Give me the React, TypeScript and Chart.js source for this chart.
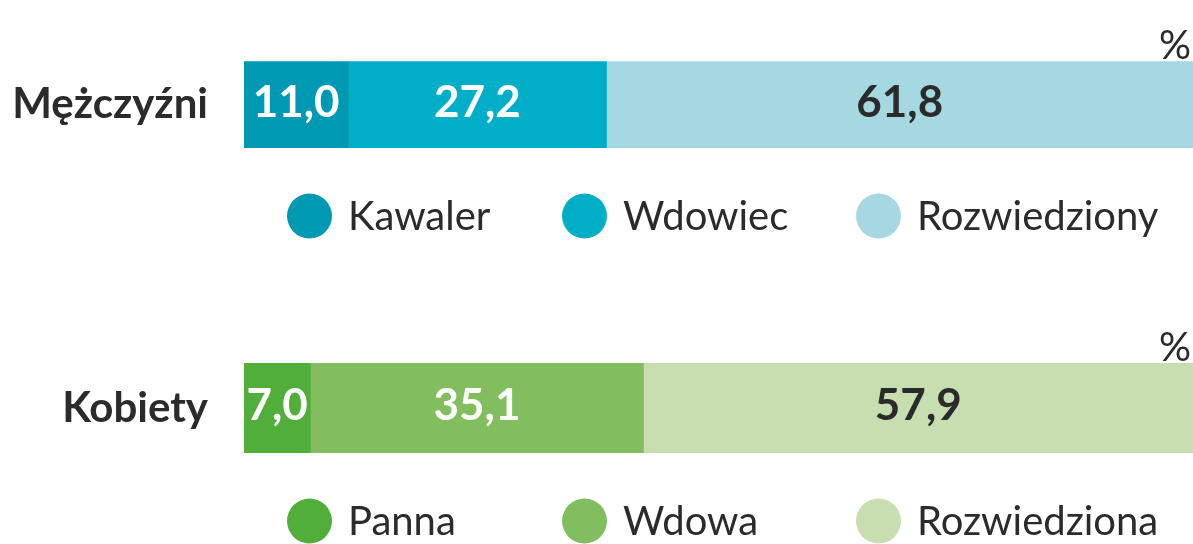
import React, { useEffect, useRef } from 'react';
import { Chart, registerables } from 'chart.js';

Chart.register(...registerables);

// ---- data ----
const menCategory = ['Mężczyźni'];
const menSeries = ['Kawaler', 'Wdowiec', 'Rozwiedziony'];
const menValues = [11.0, 27.2, 61.8];

const womenCategory = ['Kobiety'];
const womenSeries = ['Panna', 'Wdowa', 'Rozwiedziona'];
const womenValues = [7.0, 35.1, 57.9];

const unitLabel = '%';

// ---- styles ----
const menColors = ['#0099b3', '#00afc7', '#a6d8e2'];
const womenColors = ['#52ae3a', '#82be5e', '#c7deb1'];
const valueTextColors = ['#ffffff', '#ffffff', '#2b2b2b'];
const TEXT = '#2b2b2b';
const FONT = 'Lato, "Open Sans", sans-serif';
const W = 1193;
const H = 272;
const LEGEND_COLUMNS = [287, 562, 856];
const LEGEND_OFFSET = 68;
const CIRCLE_R = 22.5;

const fmt = (v: number) => v.toFixed(1).replace('.', ',');

const valueLabelPlugin = {
  id: 'valueLabels',
  afterDatasetsDraw(chart: any) {
    const ctx = chart.ctx;
    ctx.save();
    ctx.font = `bold 44px ${FONT}`;
    ctx.textAlign = 'center';
    ctx.textBaseline = 'alphabetic';
    chart.data.datasets.forEach((ds: any, i: number) => {
      const meta = chart.getDatasetMeta(i);
      meta.data.forEach((el: any, j: number) => {
        const v = ds.data[j];
        if (v == null) return;
        const x = (el.x + el.base) / 2;
        ctx.fillStyle = valueTextColors[i];
        ctx.fillText(fmt(v), x, el.y + 12);
      });
    });
    ctx.restore();
  },
};

const unitPlugin = {
  id: 'unitLabel',
  afterDraw(chart: any) {
    const { ctx, chartArea } = chart;
    ctx.save();
    ctx.font = `40px ${FONT}`;
    ctx.fillStyle = TEXT;
    ctx.textAlign = 'right';
    ctx.textBaseline = 'alphabetic';
    ctx.fillText(unitLabel, chartArea.right - 2, chartArea.top - 2);
    ctx.restore();
  },
};

const legendPlugin = {
  id: 'customLegend',
  afterDraw(chart: any) {
    const { ctx, chartArea } = chart;
    const cy = chartArea.bottom + LEGEND_OFFSET;
    ctx.save();
    ctx.font = `40px ${FONT}`;
    ctx.textAlign = 'left';
    ctx.textBaseline = 'alphabetic';
    chart.data.datasets.forEach((ds: any, i: number) => {
      const x0 = LEGEND_COLUMNS[i];
      ctx.beginPath();
      ctx.arc(x0 + CIRCLE_R, cy, CIRCLE_R, 0, Math.PI * 2);
      ctx.fillStyle = ds.backgroundColor;
      ctx.fill();
      ctx.fillStyle = TEXT;
      ctx.fillText(ds.label, x0 + CIRCLE_R * 2 + 16, cy + 14);
    });
    ctx.restore();
  },
};

function makeConfig(categories: string[], series: string[], values: number[], colors: string[], padTop: number, padBottom: number) {
  return {
    type: 'bar' as const,
    data: {
      labels: categories,
      datasets: series.map((s, i) => ({
        label: s,
        data: [values[i]],
        backgroundColor: colors[i],
        borderWidth: 0,
        barPercentage: 1,
        categoryPercentage: 1,
      })),
    },
    options: {
      indexAxis: 'y' as const,
      responsive: false,
      animation: false as const,
      devicePixelRatio: 1,
      layout: { padding: { top: padTop, bottom: padBottom, left: 0, right: 0 } },
      plugins: {
        legend: { display: false },
        tooltip: { enabled: false },
      },
      scales: {
        x: { stacked: true, min: 0, max: 100, display: false },
        y: {
          stacked: true,
          grid: { display: false, drawTicks: false },
          border: { display: false },
          ticks: {
            font: { family: FONT, size: 42, weight: 'bold' as const },
            color: TEXT,
            padding: 36,
          },
          afterFit: (scale: any) => {
            scale.width = 244;
          },
        },
      },
    },
    plugins: [valueLabelPlugin, unitPlugin, legendPlugin],
  };
}

function BarPanel(props: { categories: string[]; series: string[]; values: number[]; colors: string[]; padTop: number; padBottom: number }) {
  const ref = useRef<HTMLCanvasElement | null>(null);
  useEffect(() => {
    if (!ref.current) return;
    const chart = new Chart(ref.current, makeConfig(props.categories, props.series, props.values, props.colors, props.padTop, props.padBottom) as any);
    return () => chart.destroy();
  }, []);
  return <canvas ref={ref} width={W} height={H} style={{ display: 'block', width: W, height: H }} />;
}

export default function App() {
  useEffect(() => {
    document.body.style.margin = '0';
    document.body.style.background = '#ffffff';
  }, []);
  return (
    <div style={{ width: W, height: 2 * H, background: '#ffffff', overflow: 'hidden' }}>
      <BarPanel categories={menCategory} series={menSeries} values={menValues} colors={menColors} padTop={58} padBottom={124} />
      <BarPanel categories={womenCategory} series={womenSeries} values={womenValues} colors={womenColors} padTop={91} padBottom={91} />
    </div>
  );
}
